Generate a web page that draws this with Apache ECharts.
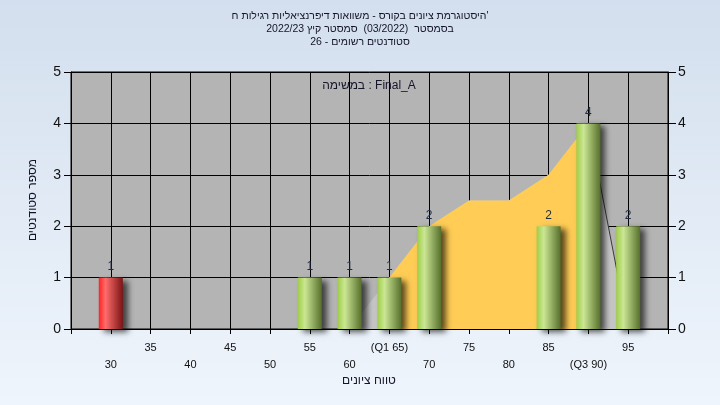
<!DOCTYPE html>
<html>
<head>
<meta charset="utf-8">
<script src="https://cdn.jsdelivr.net/npm/echarts@6/dist/echarts.min.js"></script>
<style>
html,body{margin:0;padding:0;width:720px;height:405px;overflow:hidden;}
#c{width:720px;height:405px;}
</style>
</head>
<body>
<div id="c"></div>
<script>
// ---- data ----
const failBins = [30];
const failCounts = [1];
const passBins = [55, 60, 65, 70, 85, 90, 95];
const passCounts = [1, 1, 1, 2, 2, 4, 2];
const curveX = [60, 65, 70, 75, 80, 85, 90, 95];
const curveY = [0, 1, 2, 2.5, 2.5, 3, 4, 0];
const iqrX = [65, 70, 75, 80, 85, 90];
const iqrY = [1, 2, 2.5, 2.5, 3, 4];
const tailX = [90, 95];
const tailY = [4, 0];
const tickValues = [30, 35, 40, 45, 50, 55, 60, 65, 70, 75, 80, 85, 90, 95];
const tickLabels = ['30', '35', '40', '45', '50', '55', '60', '(Q1 65)', '70', '75', '80', '85', '(Q3 90)', '95'];
const yTicks = [0, 1, 2, 3, 4, 5];

const LRM = '\u200E';
const titleLines = [
  "היסטוגרמת ציונים בקורס - משוואות דיפרנציאליות רגילות ח'",
  'בסמסטר  (03/2022)  סמסטר קיץ 2022/23',
  'סטודנטים רשומים - 26'
];
const legendText = 'במשימה : Final_A';
const xName = 'טווח ציונים';
const yName = 'מספר סטודנטים';

const FONT = "'Liberation Sans', 'DejaVu Sans', Arial, sans-serif";
const TXT = '#15152a';

function pairs(xs, ys) { return xs.map((x, i) => [x, ys[i]]); }
const labelMap = {};
tickValues.forEach((v, i) => { labelMap[v] = tickLabels[i]; });

const greenGrad = new echarts.graphic.LinearGradient(0, 0, 1, 0, [
  { offset: 0, color: '#9fcd48' },
  { offset: 0.3, color: '#cbe794' },
  { offset: 1, color: '#566f2c' }
]);
const redGrad = new echarts.graphic.LinearGradient(0, 0, 1, 0, [
  { offset: 0, color: '#ff2222' },
  { offset: 0.28, color: '#ff6c6c' },
  { offset: 1, color: '#7c1414' }
]);
const barShadow = { shadowColor: 'rgba(0,0,0,0.65)', shadowBlur: 6, shadowOffsetX: 5, shadowOffsetY: 3 };
const barLabel = { show: true, position: 'top', distance: 5, color: '#1e2b48', fontSize: 12, fontFamily: FONT };

function textEl(str, x, y, size, rot) {
  return {
    type: 'text', x: x, y: y, rotation: rot || 0, z: 100,
    style: { text: LRM + str, fontSize: size, fontFamily: FONT, fill: TXT, align: 'center', verticalAlign: 'middle' }
  };
}

const chart = echarts.init(document.getElementById('c'), null, { renderer: 'canvas' });
chart.setOption({
  animation: false,
  backgroundColor: new echarts.graphic.LinearGradient(0, 0, 0, 1, [
    { offset: 0, color: '#d3dfee' },
    { offset: 1, color: '#eff5fc' }
  ]),
  grid: {
    left: 71, right: 52, top: 72, bottom: 76,
    show: true, backgroundColor: '#b4b4b4', borderColor: '#000', borderWidth: 1
  },
  xAxis: {
    type: 'value', min: 25, max: 100, interval: 5,
    axisLine: { show: true, onZero: false, lineStyle: { color: '#000', width: 1 } },
    axisTick: { show: true, length: 5, lineStyle: { color: '#000' } },
    splitLine: { show: true, lineStyle: { color: '#000', width: 1 } },
    axisLabel: {
      margin: 10, fontSize: 11, lineHeight: 17, color: '#111', fontFamily: FONT,
      formatter: function (v) {
        const t = labelMap[v];
        if (t === undefined) return '';
        return (v % 10 === 0) ? '\n' + t : t;
      }
    }
  },
  yAxis: [
    {
      type: 'value', min: 0, max: 5, interval: 1, position: 'left',
      axisLine: { show: true, lineStyle: { color: '#000' } },
      axisTick: { show: true, length: 7, lineStyle: { color: '#000' } },
      splitLine: { show: true, lineStyle: { color: '#000', width: 1 } },
      axisLabel: { margin: 10, fontSize: 14, color: '#111', fontFamily: FONT,
        formatter: v => yTicks.indexOf(v) >= 0 ? String(v) : '' }
    },
    {
      type: 'value', min: 0, max: 5, interval: 1, position: 'right',
      axisLine: { show: true, lineStyle: { color: '#000' } },
      axisTick: { show: true, length: 8, lineStyle: { color: '#000' } },
      splitLine: { show: false },
      axisLabel: { margin: 10, fontSize: 14, color: '#111', fontFamily: FONT,
        formatter: v => yTicks.indexOf(v) >= 0 ? String(v) : '' }
    }
  ],
  graphic: [
    textEl(titleLines[0], 360, 16, 10.5),
    textEl(titleLines[1], 360, 29, 10.5),
    textEl(titleLines[2], 360, 42, 10.5),
    textEl(legendText, 369, 86, 12),
    textEl(xName, 369, 381, 12),
    textEl(yName, 33, 200, 12, Math.PI / 2)
  ],
  series: [
    {
      type: 'line', data: pairs(curveX, curveY), symbol: 'none', z: 1,
      lineStyle: { width: 0, opacity: 0 },
      areaStyle: { color: '#c6c6c6', opacity: 1 }
    },
    {
      type: 'line', data: pairs(iqrX, iqrY), symbol: 'none', z: 2,
      lineStyle: { width: 0, opacity: 0 },
      areaStyle: { color: '#ffcc55', opacity: 1 }
    },
    {
      type: 'line', data: pairs(tailX, tailY), symbol: 'none', z: 3,
      lineStyle: { width: 1, color: '#3a3a3a' }
    },
    {
      type: 'bar', data: pairs(failBins, failCounts), barWidth: 24, barGap: '-100%', z: 5,
      itemStyle: Object.assign({ color: redGrad }, barShadow),
      label: barLabel
    },
    {
      type: 'bar', data: pairs(passBins, passCounts), barWidth: 24, barGap: '-100%', z: 5,
      itemStyle: Object.assign({ color: greenGrad }, barShadow),
      label: barLabel
    }
  ]
});
</script>
</body>
</html>
